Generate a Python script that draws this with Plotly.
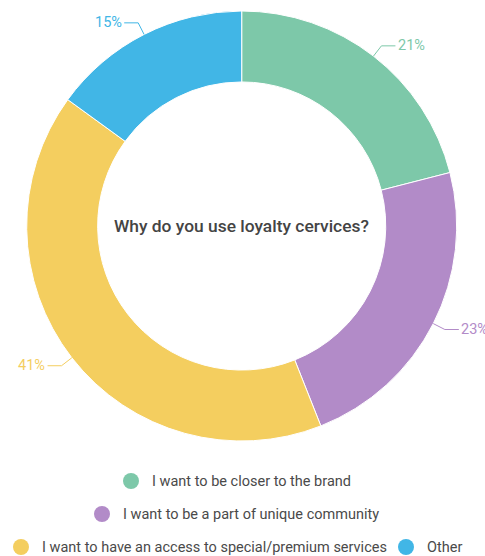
import math
import plotly.graph_objects as go

# Survey answers, clockwise from 12 o'clock
categories = [
    "I want to be closer to the brand",
    "I want to be a part of unique community",
    "I want to have an access to special/premium services",
    "Other",
]
shares = [21, 23, 41, 15]
colors = ["#7DC8A9", "#B28BC8", "#F4CE5F", "#41B6E6"]
title_text = "Why do you use loyalty cervices?"

W, H = 485, 556
CX, CY, R = 241.7, 226.0, 215.0   # donut centre and outer radius, px
HOLE = 0.67


def px_x(x):
    return x / W


def px_y(y):
    return 1 - y / H


fig = go.Figure(
    go.Pie(
        labels=categories,
        values=shares,
        hole=HOLE,
        sort=False,
        direction="clockwise",
        rotation=0,
        marker=dict(colors=colors, line=dict(color="white", width=1)),
        textinfo="none",
        hoverinfo="label+percent",
        showlegend=False,
        domain=dict(x=[px_x(CX - R), px_x(CX + R)], y=[px_y(CY + R), px_y(CY - R)]),
    )
)

shapes = []
annotations = []

# Percentage call-outs with leader lines from each slice's outer edge
total = sum(shares)
cum = 0
for val, col in zip(shares, colors):
    mid = (cum + val / 2) / total * 2 * math.pi
    cum += val
    sx, sy = math.sin(mid), -math.cos(mid)
    x0, y0 = CX + R * sx, CY + R * sy
    x1, y1 = CX + (R + 13) * sx, CY + (R + 13) * sy
    side = 1 if sx >= 0 else -1
    x2 = x1 + side * 14
    line = dict(color=col, width=1)
    shapes.append(dict(type="line", xref="paper", yref="paper",
                       x0=px_x(x0), y0=px_y(y0), x1=px_x(x1), y1=px_y(y1), line=line))
    shapes.append(dict(type="line", xref="paper", yref="paper",
                       x0=px_x(x1), y0=px_y(y1), x1=px_x(x2), y1=px_y(y1), line=line))
    annotations.append(dict(
        x=px_x(x2 + side * 0.5), y=px_y(y1), xref="paper", yref="paper",
        text=f"{val / total * 100:.0f}%", showarrow=False,
        xanchor="left" if side > 0 else "right", yanchor="middle",
        font=dict(family="Roboto", size=14.5, color=col),
    ))

# Centre caption
annotations.append(dict(
    x=px_x(CX), y=px_y(CY), xref="paper", yref="paper",
    text=title_text, showarrow=False, xanchor="center", yanchor="middle",
    font=dict(family="Roboto", size=17.4, color="#444444", weight=500),
))

# Legend: dot centre (x, y) for each entry, label to the right of its dot
LEG_SIZE = 14.5
legend_dots = [(131, 481), (102, 514), (21, 547), (406, 547)]
DOT_R = 8
LABEL_OFFSET = 19
for i, (dx, dy) in enumerate(legend_dots):
    shapes.append(dict(type="circle", xref="paper", yref="paper",
                       x0=px_x(dx - DOT_R), x1=px_x(dx + DOT_R),
                       y0=px_y(dy - DOT_R), y1=px_y(dy + DOT_R),
                       fillcolor=colors[i], line=dict(width=0)))
    annotations.append(dict(
        x=px_x(dx + LABEL_OFFSET), y=px_y(dy), xref="paper", yref="paper",
        text=categories[i], showarrow=False, xanchor="left", yanchor="middle",
        font=dict(family="Roboto", size=LEG_SIZE, color="#4A4A4A"),
    ))

fig.update_layout(
    width=W, height=H,
    margin=dict(l=0, r=0, t=0, b=0),
    paper_bgcolor="white",
    plot_bgcolor="white",
    shapes=shapes,
    annotations=annotations,
)

fig.write_html("out.html")
